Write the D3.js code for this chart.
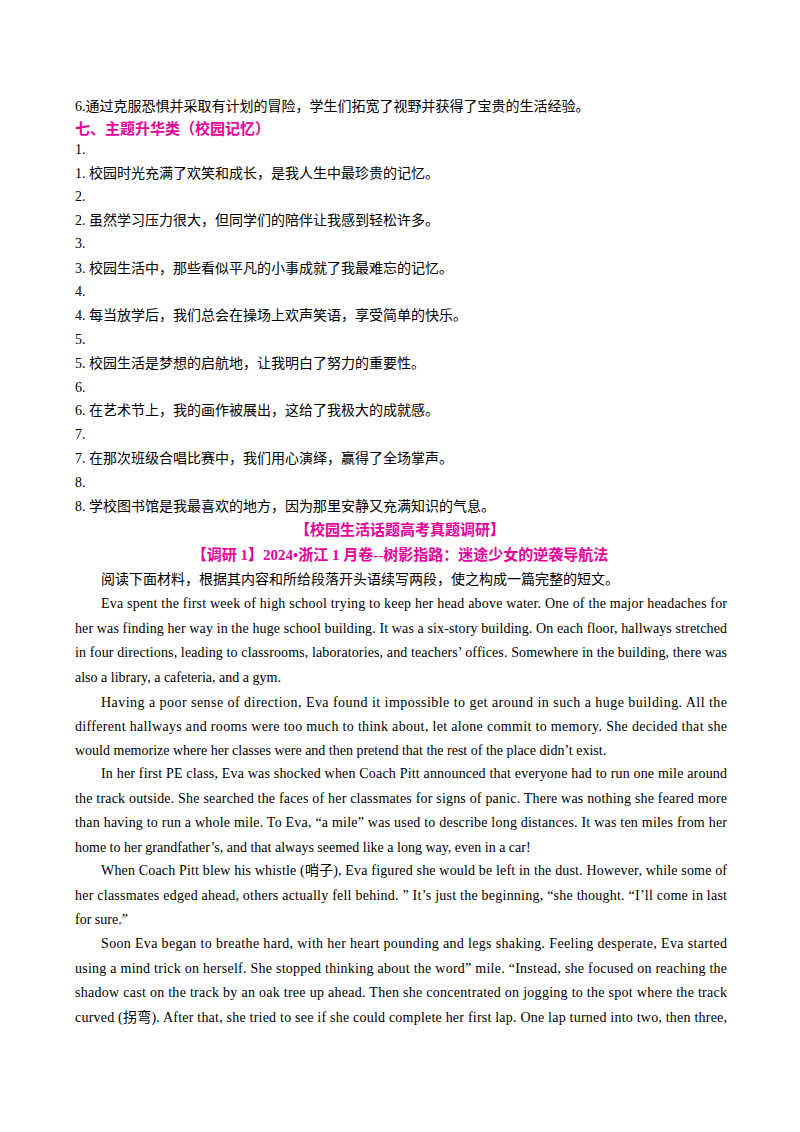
<!DOCTYPE html>
<html lang="zh">
<style>
body { margin: 0; background: #fff; }
text { font-family: "Liberation Serif", "Noto Sans CJK SC", serif; font-size: 14px; fill: #000; }
</style>
<body>
<svg id="page" width="800" height="1132"></svg>
<script src="https://cdn.jsdelivr.net/npm/d3@7"></script>
<script>
// each line: [text, kind, justify]
// kind: p = plain, h = magenta heading, i = indented
var topLines = [
  ["6.通过克服恐惧并采取有计划的冒险，学生们拓宽了视野并获得了宝贵的生活经验。", "p", 0],
  ["七、主题升华类（校园记忆）", "h", 0],
  ["1.", "p", 0],
  ["1.  校园时光充满了欢笑和成长，是我人生中最珍贵的记忆。", "p", 0],
  ["2.", "p", 0],
  ["2.  虽然学习压力很大，但同学们的陪伴让我感到轻松许多。", "p", 0],
  ["3.", "p", 0],
  ["3.  校园生活中，那些看似平凡的小事成就了我最难忘的记忆。", "p", 0],
  ["4.", "p", 0],
  ["4.  每当放学后，我们总会在操场上欢声笑语，享受简单的快乐。", "p", 0],
  ["5.", "p", 0],
  ["5.  校园生活是梦想的启航地，让我明白了努力的重要性。", "p", 0],
  ["6.", "p", 0],
  ["6.  在艺术节上，我的画作被展出，这给了我极大的成就感。", "p", 0],
  ["7.", "p", 0],
  ["7.  在那次班级合唱比赛中，我们用心演绎，赢得了全场掌声。", "p", 0],
  ["8.", "p", 0],
  ["8.  学校图书馆是我最喜欢的地方，因为那里安静又充满知识的气息。", "p", 0]
];
var topY = [111, 134, 154, 178, 201, 225, 248, 273, 296, 320, 344, 368, 392, 415, 439, 463, 487, 511];

var headLines = [
  ["【校园生活话题高考真题调研】", 535],
  ["【调研 1】2024•浙江 1 月卷--树影指路：迷途少女的逆袭导航法", 560]
];

var bodyLines = [
  ["阅读下面材料，根据其内容和所给段落开头语续写两段，使之构成一篇完整的短文。", "i", 0],
  ["Eva spent the first week of high school trying to keep her head above water. One of the major headaches for", "i", 1],
  ["her was finding her way in the huge school building. It was a six-story building. On each floor,  hallways stretched", "p", 1],
  ["in four directions, leading to classrooms, laboratories, and teachers’ offices. Somewhere in the building, there was", "p", 1],
  ["also a library, a cafeteria, and a gym.", "p", 0],
  ["Having a poor sense of direction, Eva found it impossible to get around in such a huge building. All the", "i", 1],
  ["different hallways and rooms were too much to think about, let alone commit to memory. She decided that she", "p", 1],
  ["would memorize where her classes were and then pretend that the rest of the place didn’t exist.", "p", 0],
  ["In her first PE class, Eva was shocked when Coach Pitt announced that everyone had to run one mile around", "i", 1],
  ["the track outside. She searched the faces of her classmates for signs of panic. There was nothing she feared more", "p", 1],
  ["than having to run a whole mile. To Eva, “a mile” was used to describe long distances. It was ten miles from her", "p", 1],
  ["home to her grandfather’s, and that always seemed like a long way, even in a car!", "p", 0],
  ["When Coach Pitt blew his whistle (哨子), Eva figured she would be left in the dust. However, while some of", "i", 1],
  ["her classmates edged ahead, others actually fell behind. ” It’s just the beginning, “she thought.      “I’ll come in last", "p", 1],
  ["for sure.”", "p", 0],
  ["Soon Eva began to breathe hard, with her heart pounding and legs shaking. Feeling desperate, Eva started", "i", 1],
  ["using a mind trick on herself. She stopped thinking about the word” mile. “Instead, she focused on reaching the", "p", 1],
  ["shadow cast on the track by an oak tree up ahead. Then she concentrated on jogging to the spot where the track", "p", 1],
  ["curved (拐弯). After that, she tried to see if she could complete her first lap. One lap turned into two, then three,", "p", 1]
];
var bodyY = [584, 608, 633, 657, 682, 707, 731, 755, 778, 803, 827, 852, 875, 900, 924, 948, 973, 997, 1022];

var svg = d3.select("#page");
var left = 75, right = 727, indent = 101;

function drawLines(lines, ys) {
  svg.append("g").selectAll("text").data(lines).join("text")
    .attr("x", function(d) { return d[1] == "i" ? indent : left; })
    .attr("y", function(d, i) { return ys[i]; })
    .style("fill", function(d) { return d[1] == "h" ? "#e6009a" : null; })
    .style("font-weight", function(d) { return d[1] == "h" ? "bold" : null; })
    .style("font-size", function(d) { return d[1] == "h" ? "15px" : null; })
    .each(function(d) {
      if (d[2]) d3.select(this).attr("textLength", right - (d[1] == "i" ? indent : left)).attr("lengthAdjust", "spacing");
    })
    .text(function(d) { return d[0]; });
}
drawLines(topLines, topY);
drawLines(bodyLines, bodyY);

svg.append("g").selectAll("text").data(headLines).join("text")
  .attr("x", 400).attr("y", function(d) { return d[1]; })
  .attr("text-anchor", "middle")
  .style("fill", "#e6009a").style("font-weight", "bold").style("font-size", "15px")
  .text(function(d) { return d[0]; });
</script>
</body>
</html>
